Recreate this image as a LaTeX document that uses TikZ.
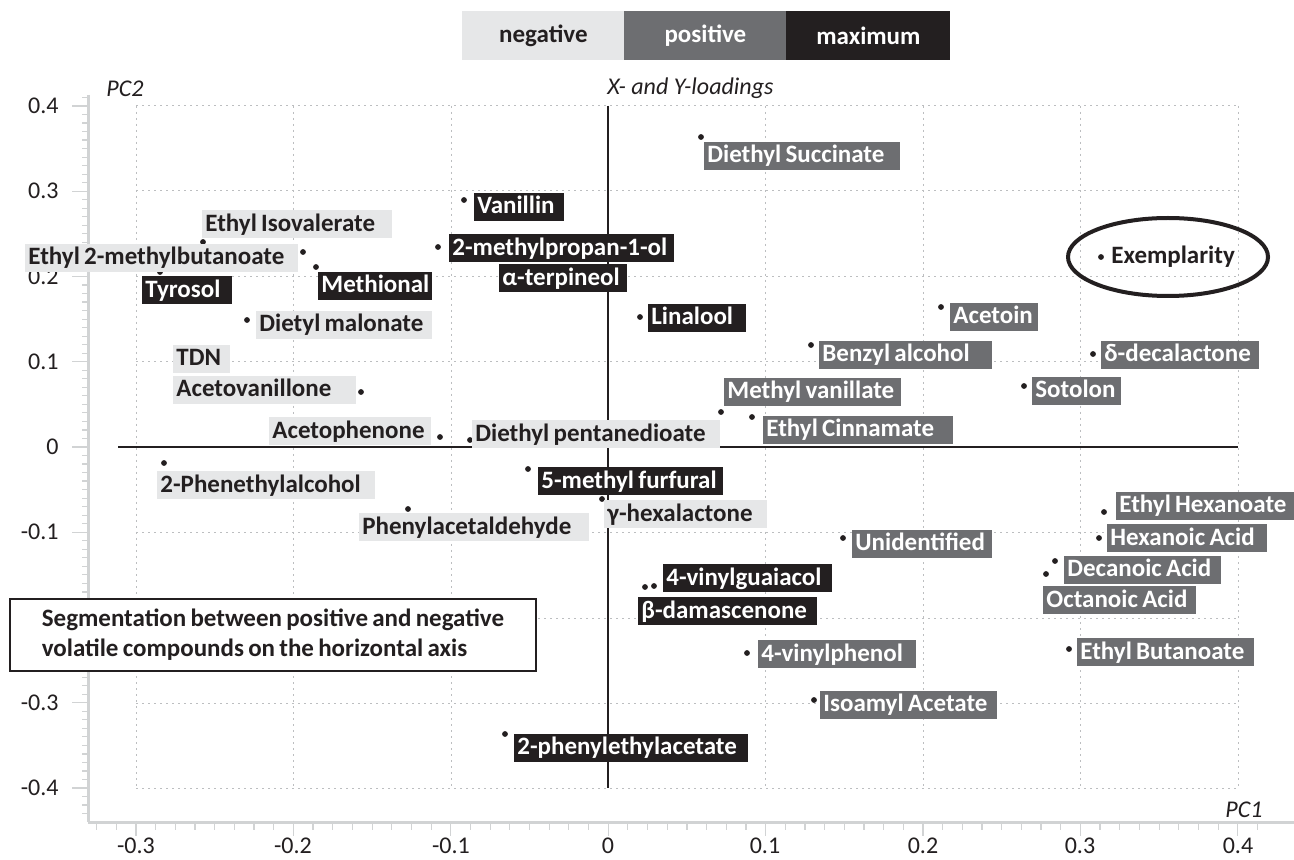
\documentclass[tikz,border=0pt]{standalone}
\usepackage{fontspec}
\setmainfont{Carlito}
\definecolor{cblack}{HTML}{231F20}
\definecolor{cneg}{HTML}{E6E7E8}
\definecolor{cpos}{HTML}{6D6E71}
\definecolor{cgrid}{HTML}{BCBEC0}
\definecolor{caxis}{HTML}{D1D3D4}
\newcommand{\tightsp}{\spaceskip=0.17em\relax}
\newcommand{\boxlab}[7]{%
  \pgfmathsetlengthmacro\bxw{(#5-#3)*0.5pt}%
  \pgfmathsetlengthmacro\txw{(#5-#3)*0.5pt-3pt}%
  \node[#1, minimum width=\bxw, text width=\txw] (#2) at (#3,{(#4+#6)/2}) {\mbox{\tightsp #7}};}
\begin{document}
\begin{tikzpicture}[x=0.5pt,y=-0.5pt,
  lblfont/.style={font=\bfseries\fontsize{12.5pt}{15pt}\selectfont},
  lbl/.style={lblfont, inner xsep=1.5pt, inner ysep=0pt, text height=10.5pt, text depth=3.5pt, align=left, anchor=west},
  negbox/.style={lbl, fill=cneg, text=cblack},
  posbox/.style={lbl, fill=cpos, text=white},
  maxbox/.style={lbl, fill=cblack, text=white},
  ptdot/.style={circle, fill=cblack, inner sep=0pt, minimum size=2.9pt},
  gridline/.style={draw=cgrid, line width=0.5pt, dash pattern=on 1.2pt off 1.8pt},
  axisline/.style={draw=caxis, line width=1.5pt},
  axtick/.style={draw=caxis, line width=0.6pt},
  cross/.style={draw=cblack, line width=0.6pt},
  axnum/.style={font=\fontsize{12pt}{14pt}\selectfont, text=cblack, inner sep=0pt},
  axtitle/.style={font=\itshape\fontsize{12pt}{14pt}\selectfont, text=cblack, inner sep=0pt},
  legbox/.style={lblfont, inner sep=0pt, minimum height=24.5pt, anchor=north west}
]
\useasboundingbox (0,0) rectangle (1294,860);
\fill[white] (0,0) rectangle (1294,860);

% grid
\foreach \x in {136,293,451,765,923,1080,1238}
  \draw[gridline] (\x,106) -- (\x,788);
\foreach \y in {106,191,277,362,532,618,703,788}
  \draw[gridline] (136,\y) -- (1238,\y);

% outer axes (light)
\draw[axisline] (88,95) -- (88,822);
\draw[axisline] (88,822) -- (1294,822);
\foreach \k in {-2,...,57}
  \draw[axtick] ({136+19.675*\k},822) -- ++(0,8);
\foreach \k in {0,...,7}
  \draw[axtick] ({136+157.4*\k},822) -- ++(0,14);
\foreach \k in {-1,...,83}
  \draw[axtick] (88,{106+8.525*\k}) -- ++(-6,0);
\foreach \k in {0,...,8}
  \draw[axtick] (88,{106+85.25*\k}) -- ++(-16,0);

% tick labels
\foreach \v/\x [count=\i] in {-0.3/136,-0.2/293,-0.1/451,0/608,0.1/765,0.2/923,0.3/1080,0.4/1238}
  \node[axnum] (xt\i) at (\x,846) {\v};
\foreach \v/\y [count=\i] in {0.4/106,0.3/191,0.2/277,0.1/362,0/447,-0.1/532,-0.3/703,-0.4/788}
  \node[axnum, anchor=east] (yt\i) at (59,\y) {\v};

% titles
\node[axtitle] (pc2) at (125,89) {PC2};
\node[axtitle, anchor=west] (xyload) at (607,88) {X- and Y-loadings};
\node[axtitle] (pc1) at (1244,810) {PC1};

% central cross
\draw[cross] (608,106) -- (608,788);
\draw[cross] (118,447) -- (1238,447);

% dots
\foreach \p [count=\i] in {(464,200),(203,242),(303,252),(160,272),(316,267),(438,247),(701,137),(1101,257),(247,320),(361,392),(440,437),(470,440),(164,463),(528,469),(408,509),(602,499),(640,317),(941,307),(811,345),(1093,354),(721,412),(752,417),(1024,386),(1104,512),(1099,538),(843,538),(1055,561),(1046,574),(645,587),(654,586),(747,653),(1069,649),(814,700),(505,734)}
  \node[ptdot] (d\i) at \p {};

% labels
\boxlab{maxbox}{vanillin}{474}{193}{564}{221}{Vanillin}
\boxlab{negbox}{ethisoval}{202}{211}{392}{238}{Ethyl Isovalerate}
\boxlab{negbox}{eth2mb}{25}{244}{298}{272}{Ethyl 2-methylbutanoate}
\boxlab{maxbox}{tyrosol}{142}{277}{232}{304}{Tyrosol}
\boxlab{maxbox}{methional}{318}{272}{432}{300}{Methional}
\boxlab{maxbox}{mprop}{449}{235}{674}{262}{2-methylpropan-1-ol}
\boxlab{maxbox}{aterp}{499}{265}{627}{292}{α-terpineol}
\boxlab{posbox}{diesucc}{704}{142}{900}{170}{Diethyl Succinate}
\boxlab{negbox}{dietmal}{256}{311}{432}{339}{Dietyl malonate}
\boxlab{negbox}{tdn}{173}{345}{230}{373}{TDN}
\boxlab{negbox}{acetovan}{173}{376}{356}{404}{Acetovanillone}
\boxlab{negbox}{acetoph}{269}{417}{431}{445}{Acetophenone}
\boxlab{negbox}{diepent}{472}{421}{720}{448}{Diethyl pentanedioate}
\boxlab{negbox}{phenethyl}{157}{471}{375}{499}{2-Phenethylalcohol}
\boxlab{maxbox}{mfurf}{538}{467}{723}{495}{5-methyl furfural}
\boxlab{negbox}{phenacet}{359}{513}{589}{541}{Phenylacetaldehyde}
\boxlab{negbox}{ghex}{604}{500}{767}{528}{γ-hexalactone}
\boxlab{maxbox}{linalool}{648}{304}{746}{332}{Linalool}
\boxlab{posbox}{acetoin}{950}{303}{1038}{331}{Acetoin}
\boxlab{posbox}{benzyl}{819}{341}{992}{369}{Benzyl alcohol}
\boxlab{posbox}{ddec}{1101}{341}{1259}{369}{δ-decalactone}
\boxlab{posbox}{mvan}{724}{378}{901}{406}{Methyl vanillate}
\boxlab{posbox}{ecinn}{763}{416}{953}{444}{Ethyl Cinnamate}
\boxlab{posbox}{sotolon}{1032}{377}{1121}{405}{Sotolon}
\boxlab{posbox}{ehex}{1116}{492}{1294}{519}{Ethyl Hexanoate}
\boxlab{posbox}{hexac}{1107}{524}{1267}{552}{Hexanoic Acid}
\boxlab{posbox}{unid}{852}{530}{992}{557}{Unidentified}
\boxlab{posbox}{decac}{1064}{556}{1221}{583}{Decanoic Acid}
\boxlab{posbox}{octac}{1043}{587}{1196}{613}{Octanoic Acid}
\boxlab{maxbox}{vguai}{663}{564}{832}{592}{4-vinylguaiacol}
\boxlab{maxbox}{bdam}{638}{597}{817}{625}{β-damascenone}
\boxlab{posbox}{vphen}{758}{640}{916}{668}{4-vinylphenol}
\boxlab{posbox}{ebut}{1077}{638}{1254}{666}{Ethyl Butanoate}
\boxlab{posbox}{isoam}{820}{691}{997}{718}{Isoamyl Acetate}
\boxlab{maxbox}{pea}{514}{734}{748}{761}{2-phenylethylacetate}

% exemplarity
\node[lbl, text=cblack, inner xsep=0pt] (exem) at (1111,257) {Exemplarity};
\draw[cblack, line width=2pt] (1168,257) ellipse [x radius=50pt, y radius=19.5pt];

% legend
\node[legbox, fill=cneg, text=cblack, minimum width=81pt] (legneg) at (462,11) {negative};
\node[legbox, fill=cpos, text=white, minimum width=81pt] (legpos) at (624,11) {positive};
\node[legbox, fill=cblack, text=white, minimum width=82pt] (legmax) at (786,11) {maximum};

% segmentation note
\node[lblfont, draw=cblack, line width=1pt, fill=white, text=cblack, minimum width=263pt, minimum height=36pt, anchor=north west, align=left, inner sep=0pt] (seg) at (9,598) {\tightsp Segmentation between positive and negative\\\tightsp volatile compounds on the horizontal axis};
\end{tikzpicture}
\end{document}
